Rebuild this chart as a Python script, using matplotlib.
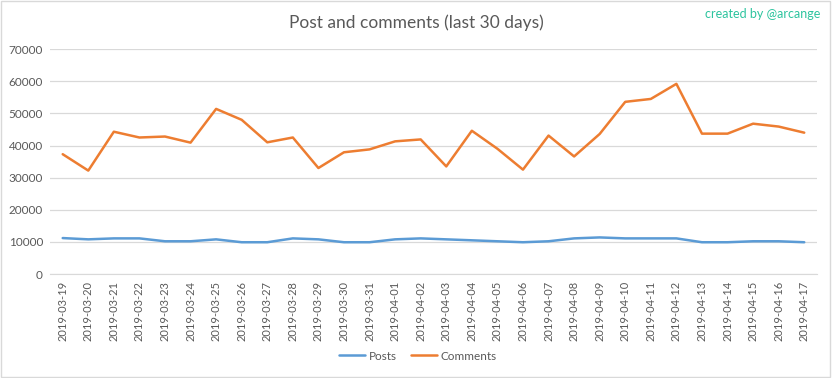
import matplotlib
matplotlib.use("Agg")
import matplotlib.pyplot as plt
from matplotlib.patches import Rectangle

dates = ["2019-03-19", "2019-03-20", "2019-03-21", "2019-03-22", "2019-03-23",
         "2019-03-24", "2019-03-25", "2019-03-26", "2019-03-27", "2019-03-28",
         "2019-03-29", "2019-03-30", "2019-03-31", "2019-04-01", "2019-04-02",
         "2019-04-03", "2019-04-04", "2019-04-05", "2019-04-06", "2019-04-07",
         "2019-04-08", "2019-04-09", "2019-04-10", "2019-04-11", "2019-04-12",
         "2019-04-13", "2019-04-14", "2019-04-15", "2019-04-16", "2019-04-17"]

posts = [11200, 10800, 11100, 11100, 10200, 10200, 10800, 9900, 9900, 11100,
         10800, 9900, 9900, 10800, 11100, 10800, 10500, 10200, 9900, 10200,
         11100, 11400, 11100, 11100, 11100, 9900, 9900, 10200, 10200, 9900]

comments = [37300, 32200, 44300, 42500, 42800, 40900, 51400, 48000, 41000, 42500,
            33000, 37900, 38800, 41300, 41900, 33500, 44600, 39000, 32500, 43100,
            36600, 43600, 53600, 54500, 59200, 43700, 43700, 46800, 45900, 44000]

yticks = [0, 10000, 20000, 30000, 40000, 50000, 60000, 70000]

plt.rcParams['font.family'] = ['Lato', 'DejaVu Sans']
grey = '#595959'

fig = plt.figure(figsize=(8.32, 3.78), dpi=100)
ax = fig.add_axes([0.060, 0.275, 0.922, 0.595])

x = list(range(len(dates)))
ax.plot(x, posts, color='#5B9BD5', lw=1.8, label='Posts', solid_capstyle='round')
ax.plot(x, comments, color='#ED7D31', lw=1.8, label='Comments', solid_capstyle='round')

ax.set_xlim(-0.5, len(dates) - 0.5)
ax.set_ylim(0, 70000)
ax.set_yticks(yticks)
ax.set_yticklabels([str(v) for v in yticks], color=grey, fontsize=8.5)
ax.set_xticks(x)
ax.set_xticklabels(dates, rotation=90, color=grey, fontsize=8)
ax.tick_params(length=0, pad=5)
ax.grid(axis='y', color='#D9D9D9', lw=0.9)
ax.set_axisbelow(True)
for s in ['top', 'right', 'left']:
    ax.spines[s].set_visible(False)
ax.spines['bottom'].set_color('#D9D9D9')

fig.text(0.5, 0.94, 'Post and comments (last 30 days)', ha='center', va='center',
         fontsize=12.5, color=grey)
fig.text(0.986, 0.963, 'created by @arcange', ha='right', va='center',
         fontsize=9, color='#2CC49E')

fig.legend(loc='center', bbox_to_anchor=(0.502, 0.058), ncol=2, frameon=False,
           fontsize=8.5, labelcolor=grey, handlelength=2.2, handletextpad=0.3,
           columnspacing=1.2)

fig.patches.append(Rectangle((0.001, 0.002), 0.997, 0.995, transform=fig.transFigure,
                             fill=False, edgecolor='#D9D9D9', lw=1))

fig.savefig('out.png', dpi=100)
